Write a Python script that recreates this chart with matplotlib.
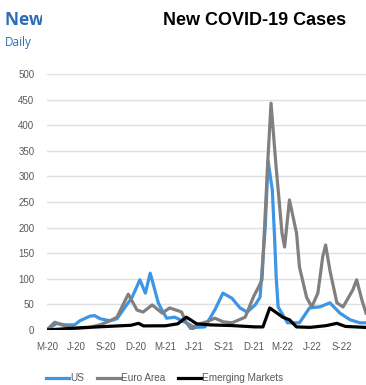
import matplotlib.pyplot as plt
import numpy as np
import pandas as pd

plt.rcParams['font.family'] = ['Liberation Sans', 'DejaVu Sans']

# Daily new cases (per million), read at turning points
us_dates = ["2020-03-01", "2020-04-01", "2020-04-25", "2020-05-26", "2020-06-11",
            "2020-07-12", "2020-07-27", "2020-08-12", "2020-09-13", "2020-10-04",
            "2020-10-22", "2020-11-20", "2020-12-14", "2020-12-31", "2021-01-15",
            "2021-02-09", "2021-02-21", "2021-03-07", "2021-04-01", "2021-05-01",
            "2021-06-02", "2021-07-03", "2021-08-03", "2021-08-28", "2021-09-25",
            "2021-10-20", "2021-11-11", "2021-12-06", "2021-12-21", "2022-01-06",
            "2022-01-15", "2022-01-28", "2022-02-03", "2022-02-09", "2022-02-15",
            "2022-03-16", "2022-04-22", "2022-05-23", "2022-06-24", "2022-07-25",
            "2022-08-25", "2022-09-25", "2022-10-25", "2022-11-14"]
us_cases = [0, 13, 10, 10, 18, 27, 28, 22, 18, 22,
            38, 64, 98, 72, 111, 53, 38, 23, 25, 16,
            5, 6, 39, 72, 62, 43, 35, 49, 64, 200,
            330, 273, 195, 103, 45, 14, 14, 43, 45, 53,
            33, 20, 14, 14]

euro_dates = ["2020-03-01", "2020-03-25", "2020-04-25", "2020-05-26", "2020-07-12",
              "2020-08-12", "2020-09-13", "2020-10-04", "2020-11-08", "2020-12-05",
              "2020-12-24", "2021-01-21", "2021-02-09", "2021-02-21", "2021-03-16",
              "2021-04-10", "2021-04-22", "2021-05-07", "2021-05-24", "2021-06-08",
              "2021-07-09", "2021-08-03", "2021-08-28", "2021-09-25", "2021-11-05",
              "2021-11-30", "2021-12-15", "2021-12-27", "2022-01-12", "2022-01-24",
              "2022-02-06", "2022-02-27", "2022-03-07", "2022-03-22", "2022-04-13",
              "2022-04-22", "2022-05-14", "2022-05-30", "2022-06-18", "2022-07-03",
              "2022-07-12", "2022-07-25", "2022-08-16", "2022-09-04", "2022-10-04",
              "2022-10-16", "2022-11-01", "2022-11-14"]
euro_cases = [0, 15, 8, 3, 5, 10, 18, 25, 70, 39,
              35, 49, 39, 33, 43, 38, 35, 14, 0, 10,
              16, 23, 16, 14, 25, 64, 82, 98, 307, 443,
              338, 189, 162, 254, 189, 123, 64, 45, 72, 143,
              166, 117, 53, 45, 78, 98, 59, 33]

em_dates = ["2020-03-01", "2020-06-01", "2020-09-01", "2020-11-15", "2020-12-10",
            "2020-12-25", "2021-03-01", "2021-04-10", "2021-05-07", "2021-06-08",
            "2021-07-15", "2021-09-15", "2021-12-01", "2021-12-30", "2022-01-20",
            "2022-03-01", "2022-03-22", "2022-04-13", "2022-05-23", "2022-07-10",
            "2022-08-16", "2022-09-10", "2022-11-14"]
em_cases = [0, 4, 7, 9, 13, 8, 8, 12, 25, 12,
            10, 9, 6, 6, 43, 25, 20, 6, 5, 8,
            13, 7, 5]

tick_dates = pd.date_range("2020-03-01", "2022-09-01", freq="3MS")
tick_labels = ["M-20", "J-20", "S-20", "D-20", "M-21", "J-21", "S-21",
               "D-21", "M-22", "J-22", "S-22"]


def smooth(dates, values):
    # daily series, linear between the read points
    d = pd.to_datetime(dates)
    t = (d - d[0]).days.values
    grid = np.arange(t[0], t[-1] + 1)
    return d[0] + pd.to_timedelta(grid, unit="D"), np.interp(grid, t, values)


fig = plt.figure(figsize=(3.66, 3.85), dpi=100)
ax = fig.add_axes([0.128, 0.1429, 0.872, 0.665])

for dates, vals, color, label in [
        (us_dates, us_cases, "#3d95e6", "US"),
        (euro_dates, euro_cases, "#808080", "Euro Area"),
        (em_dates, em_cases, "black", "Emerging Markets")]:
    x, y = smooth(dates, vals)
    ax.plot(x, y, color=color, lw=2.3, label=label, solid_joinstyle="round")

ax.set_xlim(pd.Timestamp("2020-03-01"), pd.Timestamp("2022-11-14"))
ax.set_ylim(0, 500)
ax.set_yticks(np.arange(0, 501, 50))
ax.set_xticks(tick_dates)
ax.set_xticklabels(tick_labels)
ax.grid(axis="y", color="#e0e0e0", lw=1)
ax.set_axisbelow(True)
for s in ax.spines.values():
    s.set_visible(False)
ax.tick_params(length=0, labelsize=7, colors="#595959", pad=9)

# old heading, mostly hidden under the white box
fig.text(0.014, 0.948, "New Daily Cases", color="#2e6db4", fontsize=12.5,
         fontweight="bold", va="center", family=["Open Sans", "DejaVu Sans"],
         zorder=1)
fig.text(0.014, 0.89, "Daily", color="#2e6db4", fontsize=8.5,
         va="center", family=["Open Sans", "DejaVu Sans"], zorder=1)
fig.add_artist(plt.Rectangle((0.115, 0.86), 0.9, 0.14, transform=fig.transFigure,
                             facecolor="white", edgecolor="none", zorder=5))
fig.text(0.695, 0.948, "New COVID-19 Cases", fontsize=13, fontweight="bold",
         ha="center", va="center", zorder=6)

fig.legend(loc="center", bbox_to_anchor=(0.45, 0.018), ncol=3, frameon=False,
           fontsize=7.2, handlelength=2.3, handletextpad=0.1, columnspacing=1.3,
           labelcolor="#595959")

fig.savefig("out.png")
